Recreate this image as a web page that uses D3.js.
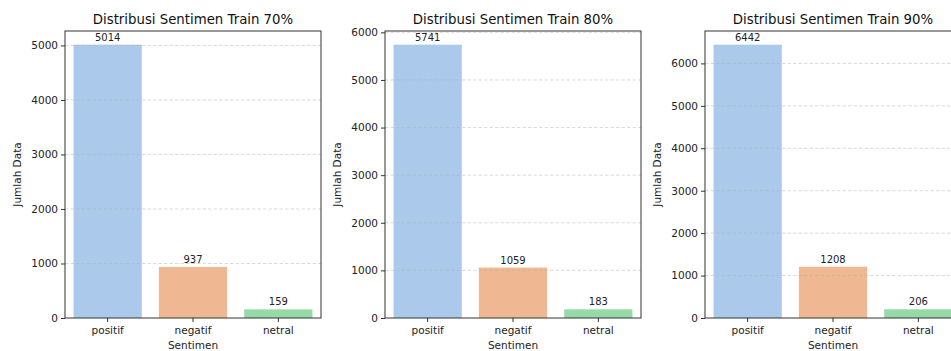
<!DOCTYPE html>
<html>
<head>
<meta charset="utf-8">
<script src="https://cdn.jsdelivr.net/npm/d3@7"></script>
<style>
  html, body { margin: 0; padding: 0; background: #fff; }
  svg { display: block; font-family: "DejaVu Sans", sans-serif; }
</style>
</head>
<body>
<svg id="chart" width="951" height="351"></svg>
<script>
// ---- data ----
const categories = ["positif", "negatif", "netral"];
const titles = ["Distribusi Sentimen Train 70%", "Distribusi Sentimen Train 80%", "Distribusi Sentimen Train 90%"];
const values70 = [5014, 937, 159];
const values80 = [5741, 1059, 183];
const values90 = [6442, 1208, 206];
const yTicks70 = [0, 1000, 2000, 3000, 4000, 5000];
const yTicks80 = [0, 1000, 2000, 3000, 4000, 5000, 6000];
const yTicks90 = [0, 1000, 2000, 3000, 4000, 5000, 6000];
const barColors = ["#abc9ea", "#efb792", "#98daa7"];
const xLabel = "Sentimen";
const yLabel = "Jumlah Data";

const panels = [
  { title: titles[0], values: values70, ticks: yTicks70, left: 65 },
  { title: titles[1], values: values80, ticks: yTicks80, left: 385 },
  { title: titles[2], values: values90, ticks: yTicks90, left: 705 }
];

const svg = d3.select("#chart");
const plotTop = 31, plotBottom = 318, plotWidth = 256;

panels.forEach(p => {
  const g = svg.append("g");
  const x = d3.scaleBand().domain(categories).range([p.left, p.left + plotWidth]).paddingInner(0.2).paddingOuter(0.1);
  const ymax = d3.max(p.values) * 1.05;
  const y = d3.scaleLinear().domain([0, ymax]).range([plotBottom, plotTop]);

  // bars
  g.selectAll("rect.bar").data(p.values).join("rect")
    .attr("class", "bar")
    .attr("x", (d, i) => x(categories[i]))
    .attr("width", x.bandwidth())
    .attr("y", d => y(d))
    .attr("height", d => y(0) - y(d))
    .attr("fill", (d, i) => barColors[i]);

  // grid
  g.selectAll("line.grid").data(p.ticks.filter(t => t > 0)).join("line")
    .attr("class", "grid")
    .attr("x1", p.left).attr("x2", p.left + plotWidth)
    .attr("y1", d => y(d)).attr("y2", d => y(d))
    .attr("stroke", "#b0b0b0").attr("stroke-opacity", 0.6)
    .attr("stroke-width", 0.8).attr("stroke-dasharray", "3.5,2");

  // bar labels
  g.selectAll("text.blab").data(p.values).join("text")
    .attr("class", "blab")
    .attr("x", (d, i) => x(categories[i]) + x.bandwidth() / 2)
    .attr("y", d => y(d) - 4)
    .attr("text-anchor", "middle")
    .attr("font-size", "10px").attr("fill", "#222")
    .text(d => d);

  // y axis
  const yAxis = d3.axisLeft(y).tickValues(p.ticks).tickSize(4).tickPadding(3).tickFormat(d3.format("d"));
  const ya = g.append("g").attr("transform", `translate(${p.left},0)`).call(yAxis);
  ya.select(".domain").remove();
  ya.selectAll("text").attr("font-size", "10.5px").attr("fill", "#222").attr("font-family", "DejaVu Sans");
  ya.selectAll("line").attr("stroke", "#333");

  // x axis
  const xAxis = d3.axisBottom(x).tickSize(4).tickPadding(5);
  const xa = g.append("g").attr("transform", `translate(0,${plotBottom})`).call(xAxis);
  xa.select(".domain").remove();
  xa.selectAll("text").attr("font-size", "10.5px").attr("fill", "#222").attr("font-family", "DejaVu Sans");
  xa.selectAll("line").attr("stroke", "#333");

  // frame
  g.append("rect").attr("x", p.left).attr("y", plotTop).attr("width", plotWidth).attr("height", plotBottom - plotTop)
    .attr("fill", "none").attr("stroke", "#333").attr("stroke-width", 1);

  // title
  g.append("text").attr("x", p.left + plotWidth / 2).attr("y", plotTop - 7)
    .attr("text-anchor", "middle").attr("font-size", "13.3px").attr("fill", "#111")
    .text(p.title);

  // axis labels
  g.append("text").attr("x", p.left + plotWidth / 2).attr("y", 349)
    .attr("text-anchor", "middle").attr("font-size", "10.5px").attr("fill", "#222")
    .text(xLabel);
  g.append("text")
    .attr("transform", `translate(${p.left - 44},${(plotTop + plotBottom) / 2}) rotate(-90)`)
    .attr("text-anchor", "middle").attr("font-size", "10.5px").attr("fill", "#222")
    .text(yLabel);
});
</script>
</body>
</html>
